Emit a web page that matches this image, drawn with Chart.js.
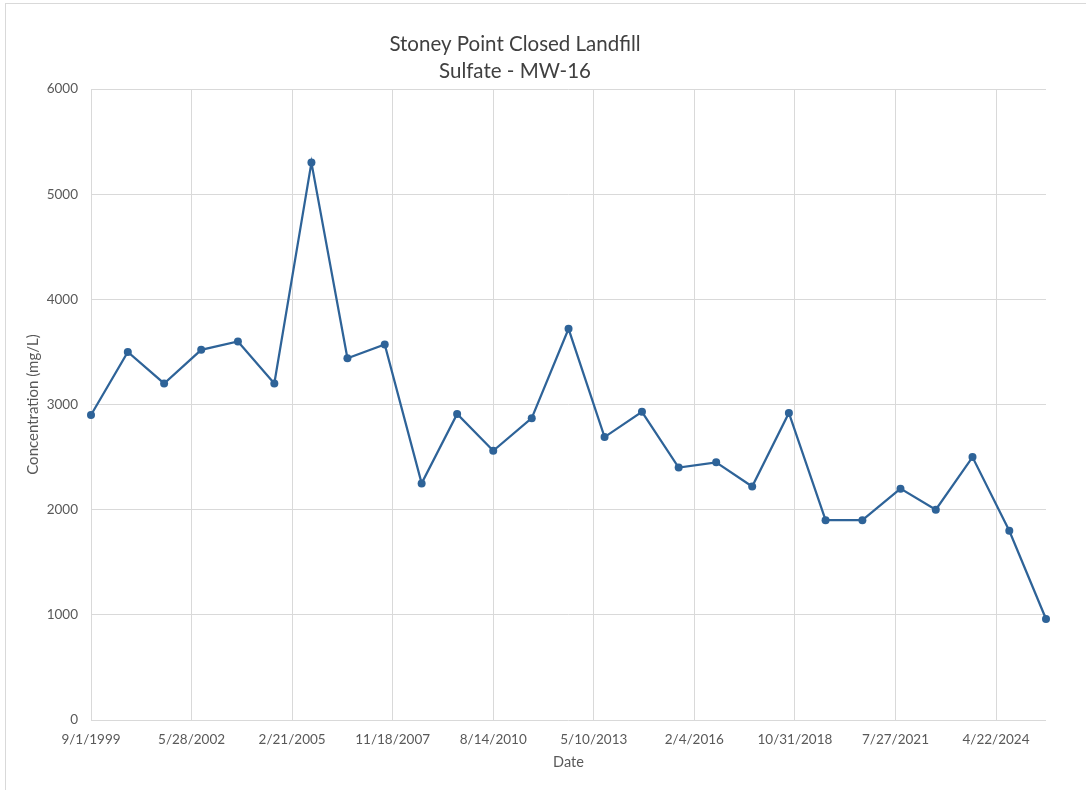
<!DOCTYPE html>
<html>
<head>
<meta charset="utf-8">
<script src="https://cdn.jsdelivr.net/npm/chart.js@4/dist/chart.umd.min.js"></script>
<style>
    html, body { margin: 0; padding: 0; background: #fff; }
    #wrap { width: 1086px; height: 790px; }
</style>
</head>
<body>
<div id="wrap"><canvas id="sulfateChart"></canvas></div>
<script>
// Sampling dates and sulfate results (mg/L)
const sampleDates = [
    '9/1/1999', '9/1/2000', '8/28/2001', '9/1/2002', '9/1/2003', '8/28/2004',
    '9/1/2005', '8/25/2006', '8/31/2007', '9/1/2008', '8/20/2009', '8/14/2010',
    '9/1/2011', '9/1/2012', '8/25/2013', '9/1/2014', '9/1/2015', '9/8/2016',
    '9/1/2017', '9/1/2018', '9/1/2019', '9/1/2020', '9/15/2021', '9/1/2022',
    '9/1/2023', '9/1/2024', '9/1/2025'
];
const sulfate = [
    2900, 3500, 3200, 3520, 3600, 3200,
    5300, 3440, 3570, 2250, 2910, 2560,
    2870, 3720, 2690, 2930, 2400, 2450,
    2220, 2920, 1900, 1900, 2200, 2000,
    2500, 1800, 960
];
const titleLines = ['Stoney Point Closed Landfill', 'Sulfate - MW-16'];
const yTicks = [0, 1000, 2000, 3000, 4000, 5000, 6000];
// date axis ticks, in days after the first sample (every 1000 days)
const xTickDays = [0, 1000, 2000, 3000, 4000, 5000, 6000, 7000, 8000, 9000];

const DAY = 86400000;
function toUtc(s) {
    const [m, d, y] = s.split('/').map(Number);
    return Date.UTC(y, m - 1, d);
}
const origin = toUtc(sampleDates[0]);
const points = sampleDates.map((s, i) => ({ x: Math.round((toUtc(s) - origin) / DAY), y: sulfate[i] }));

function dayLabel(v) {
    const d = new Date(origin + v * DAY);
    return (d.getUTCMonth() + 1) + '/' + d.getUTCDate() + '/' + d.getUTCFullYear();
}

const font = 'Lato, "Open Sans", sans-serif';
const textColor = '#595959';
const gridColor = '#d9d9d9';

// outer frame and title, drawn like the spreadsheet chart box
const framePlugin = {
    id: 'frame',
    beforeDraw(chart) {
        const c = chart.ctx;
        c.save();
        c.fillStyle = '#fff';
        c.fillRect(0, 0, chart.width, chart.height);
        c.strokeStyle = '#d9d9d9';
        c.lineWidth = 1;
        c.strokeRect(5.5, 3.5, chart.width + 10, chart.height + 10);
        c.restore();
    },
    afterDraw(chart) {
        const c = chart.ctx;
        c.save();
        c.fillStyle = '#404040';
        c.font = '20.5px ' + font;
        c.textAlign = 'center';
        c.textBaseline = 'middle';
        c.fillText(titleLines[0], 515, 44);
        c.fillText(titleLines[1], 515, 71);
        c.restore();
    }
};

new Chart(document.getElementById('sulfateChart'), {
    type: 'line',
    data: {
        datasets: [{
            label: 'Sulfate',
            data: points,
            borderColor: '#2e6398',
            backgroundColor: '#2e6398',
            borderWidth: 2.25,
            pointRadius: 4,
            pointBorderWidth: 0,
            tension: 0,
            clip: false
        }]
    },
    options: {
        responsive: true,
        maintainAspectRatio: false,
        animation: false,
        layout: { padding: { top: 89, right: 40, left: 20, bottom: 12 } },
        scales: {
            x: {
                type: 'linear',
                min: 0,
                max: points[points.length - 1].x,
                border: { display: false },
                grid: { color: gridColor, drawTicks: false },
                afterBuildTicks: s => { s.ticks = xTickDays.map(v => ({ value: v })); },
                ticks: {
                    autoSkip: false,
                    maxRotation: 0,
                    padding: 12,
                    color: textColor,
                    font: { family: font, size: 13.5 },
                    callback: v => dayLabel(v)
                },
                title: { display: true, text: 'Date', color: textColor, font: { family: font, size: 14.5 }, padding: { top: 0, bottom: 7 } },
                afterFit: s => { s.height = 58; }
            },
            y: {
                min: 0,
                max: 6000,
                border: { display: false },
                grid: { color: gridColor, drawTicks: false },
                afterBuildTicks: s => { s.ticks = yTicks.map(v => ({ value: v })); },
                ticks: {
                    padding: 13,
                    color: textColor,
                    font: { family: font, size: 13.5 },
                    callback: v => String(v)
                },
                title: { display: true, text: 'Concentration (mg/L)', color: textColor, font: { family: font, size: 15 }, padding: { bottom: 6 } },
                afterFit: s => { s.width = 71; }
            }
        },
        plugins: {
            legend: { display: false },
            title: { display: false },
            tooltip: { enabled: false }
        }
    },
    plugins: [framePlugin]
});
</script>
</body>
</html>
